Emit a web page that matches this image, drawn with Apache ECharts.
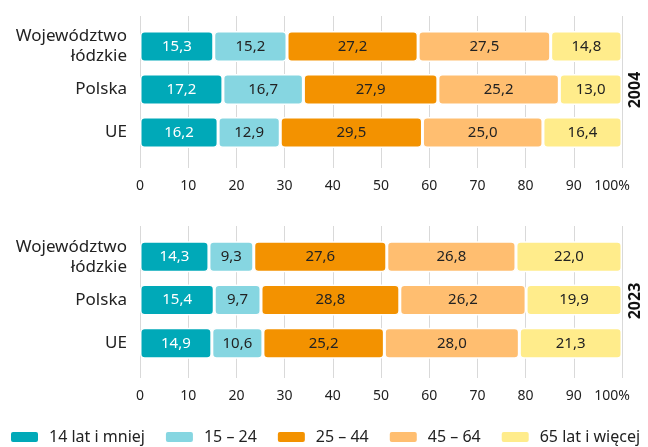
<!DOCTYPE html>
<html>
<head>
<meta charset="utf-8">
<script src="https://cdn.jsdelivr.net/npm/echarts@6/dist/echarts.min.js"></script>
<style>
html,body{margin:0;padding:0;background:#fff;}
#main{width:648px;height:447px;}
</style>
</head>
<body>
<div id="main"></div>
<script>
var regions = ['Województwo\nłódzkie', 'Polska', 'UE'];
var groups = ['14 lat i mniej', '15 – 24', '25 – 44', '45 – 64', '65 lat i więcej'];
var colors = ['#00a9b8', '#86d6e1', '#f39200', '#ffbe70', '#ffec8b'];
var ticks = [0, 10, 20, 30, 40, 50, 60, 70, 80, 90, 100];

// kolejne wiersze: woj. łódzkie, Polska, UE
var y2004_0_14 = [15.3, 17.2, 16.2];
var y2004_15_24 = [15.2, 16.7, 12.9];
var y2004_25_44 = [27.2, 27.9, 29.5];
var y2004_45_64 = [27.5, 25.2, 25.0];
var y2004_65 = [14.8, 13.0, 16.4];

var y2023_0_14 = [14.3, 15.4, 14.9];
var y2023_15_24 = [9.3, 9.7, 10.6];
var y2023_25_44 = [27.6, 28.8, 25.2];
var y2023_45_64 = [26.8, 26.2, 28.0];
var y2023_65 = [22.0, 19.9, 21.3];

var data2004 = [y2004_0_14, y2004_15_24, y2004_25_44, y2004_45_64, y2004_65];
var data2023 = [y2023_0_14, y2023_15_24, y2023_25_44, y2023_45_64, y2023_65];

var font = 'Noto Sans';
var myChart = echarts.init(document.getElementById('main'));

function lineAxis(idx) {
    return {
        gridIndex: idx, type: 'value', min: ticks[0], max: ticks[ticks.length - 1], interval: 10,
        axisLine: {show: false}, axisTick: {show: false},
        splitLine: {show: true, lineStyle: {color: '#d9d9d9', width: 1}},
        axisLabel: {
            color: '#222', fontSize: 14, fontFamily: font, margin: 11,
            formatter: function (v) { return v === 100 ? '{p|100%}' : '' + v; },
            rich: {p: {fontSize: 14, fontFamily: font, color: '#222', padding: [0, 20, 0, 0]}}
        }
    };
}

var grids = [
    {left: 140, right: 26, top: 16, height: 152},   // linie 2004
    {left: 140, right: 26, top: 25, height: 129},   // słupki 2004
    {left: 140, right: 26, top: 226, height: 152},  // linie 2023
    {left: 140, right: 26, top: 235, height: 130}   // słupki 2023
];

var xAxes = [
    lineAxis(0),
    {gridIndex: 1, type: 'value', min: 0, max: 100, show: false},
    lineAxis(2),
    {gridIndex: 3, type: 'value', min: 0, max: 100, show: false}
];

function catAxis(idx) {
    return {
        gridIndex: idx, type: 'category', data: regions, inverse: true,
        axisLine: {show: false}, axisTick: {show: false},
        axisLabel: {color: '#222', fontSize: 17, fontFamily: font, margin: 13, lineHeight: 20, align: 'right'}
    };
}

var yAxes = [
    {gridIndex: 0, type: 'value', show: false},
    catAxis(1),
    {gridIndex: 2, type: 'value', show: false},
    catAxis(3)
];

var series = [];
function addBars(data, axisIdx, stack) {
    for (var i = 0; i < groups.length; i++) {
        series.push({
            name: groups[i], type: 'bar', stack: stack,
            xAxisIndex: axisIdx, yAxisIndex: axisIdx,
            data: data[i], barWidth: 31,
            itemStyle: {color: colors[i], borderRadius: 4, borderColor: '#fff', borderWidth: 1.5},
            label: {
                show: true, position: 'inside', fontSize: 15, fontFamily: font,
                color: i === 0 ? '#fff' : '#222',
                formatter: function (p) { return p.value.toFixed(1).replace('.', ','); }
            }
        });
    }
}
addBars(data2004, 1, 'a');
addBars(data2023, 3, 'b');

var option = {
    animation: false,
    color: colors,
    grid: grids,
    xAxis: xAxes,
    yAxis: yAxes,
    series: series,
    legend: {
        data: groups, left: 4, top: 424,
        itemWidth: 29, itemHeight: 12, itemGap: 19,
        icon: 'roundRect',
        textStyle: {color: '#222', fontSize: 16, fontFamily: font, padding: [0, 0, 0, 5]}
    },
    graphic: [
        {type: 'text', x: 635, y: 90, rotation: Math.PI / 2,
         style: {text: '2004', font: 'bold 16px "Noto Sans"', fill: '#111', align: 'center', verticalAlign: 'middle'}},
        {type: 'text', x: 635, y: 301, rotation: Math.PI / 2,
         style: {text: '2023', font: 'bold 16px "Noto Sans"', fill: '#111', align: 'center', verticalAlign: 'middle'}}
    ]
};
myChart.setOption(option);
</script>
</body>
</html>
